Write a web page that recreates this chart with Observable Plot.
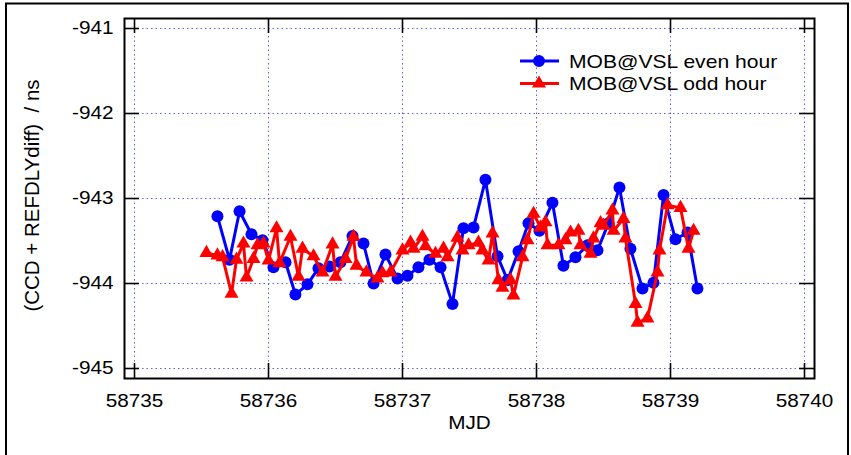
<!DOCTYPE html>
<html>
<head>
<meta charset="utf-8">
<script src="https://cdn.jsdelivr.net/npm/d3@7"></script>
<script src="https://cdn.jsdelivr.net/npm/@observablehq/plot@0.6"></script>
<style>
  html, body { margin: 0; padding: 0; background: #fff; overflow: hidden; }
  #chart svg { display: block; }
</style>
</head>
<body>
<div id="chart"></div>
<script>
// Series labels and axis titles
const seriesNames = ["MOB@VSL even hour", "MOB@VSL odd hour"];
const xLabel = "MJD";
const yLabel = "(CCD + REFDLYdiff)  / ns";

// Tick values
const xTicks = [58735, 58736, 58737, 58738, 58739, 58740];
const yTicks = [-941, -942, -943, -944, -945];

// Even-hour series: MJD and value (ns)
const evenMJD = [58735.619, 58735.709, 58735.784, 58735.873, 58735.955, 58736.037, 58736.127, 58736.201,
  58736.291, 58736.373, 58736.455, 58736.537, 58736.627, 58736.709, 58736.784, 58736.873, 58736.963,
  58737.037, 58737.119, 58737.201, 58737.284, 58737.373, 58737.455, 58737.530, 58737.619, 58737.709,
  58737.784, 58737.866, 58737.940, 58738.022, 58738.119, 58738.201, 58738.291, 58738.381, 58738.455,
  58738.537, 58738.619, 58738.701, 58738.791, 58738.873, 58738.948, 58739.037, 58739.127, 58739.201];
const evenNs = [-943.21, -943.72, -943.15, -943.42, -943.49, -943.81, -943.75, -944.13,
  -944.01, -943.82, -943.80, -943.75, -943.44, -943.53, -944.00, -943.66, -943.94,
  -943.91, -943.81, -943.72, -943.81, -944.24, -943.35, -943.34, -942.78, -943.68,
  -943.96, -943.62, -943.29, -943.38, -943.05, -943.79, -943.69, -943.55, -943.61,
  -943.29, -942.87, -943.59, -944.06, -943.99, -942.96, -943.48, -943.40, -944.06];

// Odd-hour series: MJD and value (ns)
const oddMJD = [58735.537, 58735.619, 58735.657, 58735.724, 58735.761, 58735.813, 58735.836, 58735.888, 58735.918, 58735.963,
  58736.000, 58736.060, 58736.082, 58736.164, 58736.224, 58736.254, 58736.336, 58736.403, 58736.478, 58736.500,
  58736.575, 58736.634, 58736.657, 58736.731, 58736.813, 58736.851, 58736.910, 58737.000, 58737.060, 58737.082,
  58737.149, 58737.172, 58737.246, 58737.306, 58737.336, 58737.410, 58737.448, 58737.493, 58737.567, 58737.597,
  58737.642, 58737.672, 58737.716, 58737.746, 58737.806, 58737.828, 58737.896, 58737.933, 58737.978, 58738.030,
  58738.067, 58738.082, 58738.164, 58738.216, 58738.254, 58738.313, 58738.328, 58738.403, 58738.425, 58738.478,
  58738.500, 58738.567, 58738.575, 58738.649, 58738.664, 58738.739, 58738.754, 58738.828, 58738.903, 58738.918,
  58738.978, 58739.075, 58739.134, 58739.172];
const oddNs = [-943.64, -943.67, -943.69, -944.12, -943.72, -943.53, -943.93, -943.71, -943.55, -943.53,
  -943.73, -943.35, -943.76, -943.45, -943.92, -943.59, -943.68, -943.87, -943.54, -943.92,
  -943.71, -943.45, -943.79, -943.87, -943.94, -943.88, -943.87, -943.61, -943.52, -943.59,
  -943.45, -943.56, -943.65, -943.59, -943.69, -943.46, -943.61, -943.55, -943.52, -943.61,
  -943.73, -943.41, -943.96, -944.05, -943.96, -944.14, -943.69, -943.49, -943.18, -943.34,
  -943.28, -943.55, -943.55, -943.49, -943.40, -943.38, -943.55, -943.65, -943.47, -943.29,
  -943.32, -943.14, -943.38, -943.24, -943.47, -944.24, -944.46, -944.41, -943.87, -943.61,
  -943.08, -943.11, -943.59, -943.38];

const even = evenMJD.map((mjd, i) => ({mjd, ns: evenNs[i]}));
const odd = oddMJD.map((mjd, i) => ({mjd, ns: oddNs[i]}));

const W = 851, H = 455;
const mL = 124, mR = 37, mT = 18, mB = 77;
const frameW = W - mL - mR, frameH = H - mT - mB;
const tickLen = 15;
const font = "'Liberation Sans', Arial, Helvetica, sans-serif";
const blue = "#0000ff", red = "#ff0000";
const gridStyle = {stroke: "#4040ff", strokeOpacity: 0.85, strokeDasharray: "1.5,3", strokeWidth: 1};
const tickStyle = {stroke: "black", strokeWidth: 1.6};

const chart = Plot.plot({
  width: W, height: H,
  marginLeft: mL, marginRight: mR, marginTop: mT, marginBottom: mB,
  inset: 10,
  style: {fontFamily: font, fontSize: "18.5px", color: "black", background: "white"},
  x: {domain: [58735, 58740]},
  y: {domain: [-945, -941]},
  marks: [
    Plot.gridX(xTicks, gridStyle),
    Plot.gridY(yTicks, gridStyle),
    // inward ticks on all four sides
    Plot.ruleX(xTicks, {x: d => d, insetTop: frameH - tickLen, ...tickStyle}),
    Plot.ruleX(xTicks, {x: d => d, insetBottom: frameH - tickLen, ...tickStyle}),
    Plot.ruleY(yTicks, {y: d => d, insetRight: frameW - tickLen, ...tickStyle}),
    Plot.ruleY(yTicks, {y: d => d, insetLeft: frameW - tickLen, ...tickStyle}),
    Plot.axisX(xTicks, {tickSize: 0, tickPadding: 15, label: null, tickFormat: d => String(d)}),
    Plot.axisY(yTicks, {tickSize: 0, tickPadding: 11, label: null, tickFormat: d => String(d)}),
    // data
    Plot.line(even, {x: "mjd", y: "ns", stroke: blue, strokeWidth: 3}),
    Plot.dot(even, {x: "mjd", y: "ns", r: 6, fill: blue}),
    Plot.line(odd, {x: "mjd", y: "ns", stroke: red, strokeWidth: 3}),
    Plot.dot(odd, {x: "mjd", y: "ns", symbol: "triangle", r: 5.2, fill: red}),
    Plot.frame({stroke: "black", strokeWidth: 2}),
    // axis titles
    Plot.text([xLabel], {text: d => d, frameAnchor: "bottom", dy: 50, className: "stretch"}),
    Plot.text([yLabel], {text: d => d, frameAnchor: "left", textAnchor: "middle", lineAnchor: "middle",
      dx: -92, dy: -3, rotate: -90, fontSize: 20.5})
  ]
});

document.getElementById("chart").appendChild(chart);

const svg = d3.select(chart);

// slightly wider lettering for the horizontal texts
svg.selectAll("g[aria-label='x-axis tick label'] text, g[aria-label='y-axis tick label'] text, .stretch text")
  .each(function () {
    const len = this.getComputedTextLength();
    if (len > 0) {
      this.setAttribute("textLength", (len * 1.12).toFixed(1));
      this.setAttribute("lengthAdjust", "spacingAndGlyphs");
    }
  });

// legend, top right inside the plot area
const leg = svg.append("g")
  .attr("font-family", font)
  .attr("font-size", "18.5px")
  .attr("text-anchor", "start")
  .attr("fill", "black");
seriesNames.forEach((name, i) => {
  const y = 61 + i * 22.5;
  const color = i ? red : blue;
  leg.append("line")
    .attr("x1", 520).attr("x2", 559)
    .attr("y1", y).attr("y2", y)
    .attr("stroke", color).attr("stroke-width", 3);
  leg.append("path")
    .attr("transform", `translate(539,${y})`)
    .attr("d", d3.symbol(i ? d3.symbolTriangle : d3.symbolCircle, i ? 85 : 113)())
    .attr("fill", color);
  const t = leg.append("text")
    .attr("x", 569).attr("y", y + 6.5)
    .text(name);
  const len = t.node().getComputedTextLength();
  t.attr("textLength", (len * 1.14).toFixed(1)).attr("lengthAdjust", "spacingAndGlyphs");
});

// outer border of the figure
svg.append("rect")
  .attr("x", 6).attr("y", 3.5)
  .attr("width", 842).attr("height", 600)
  .attr("fill", "none")
  .attr("stroke", "black")
  .attr("stroke-width", 2);
</script>
</body>
</html>
